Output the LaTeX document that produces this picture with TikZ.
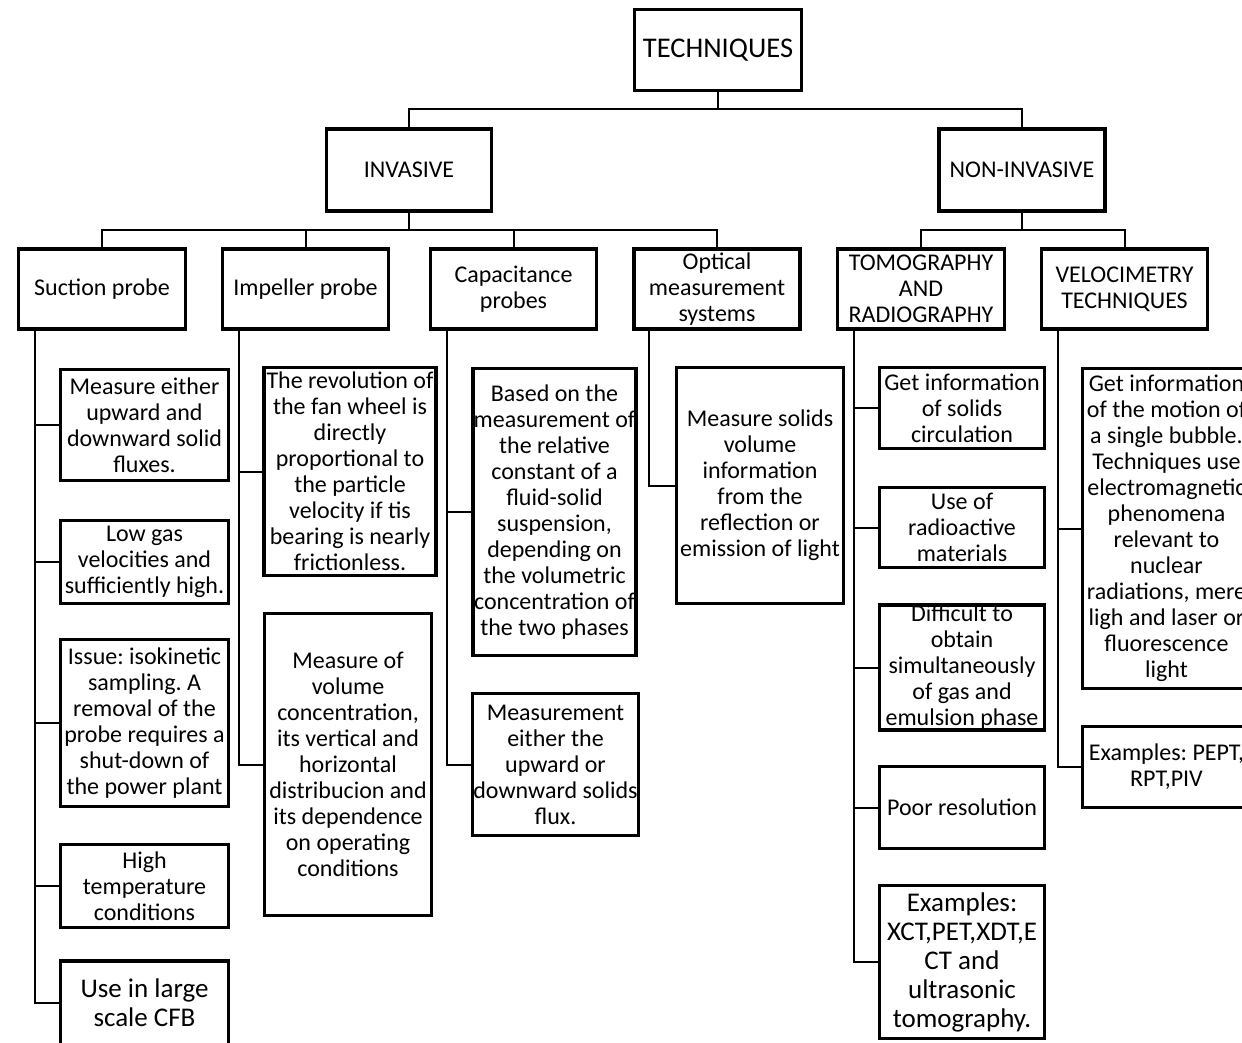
\documentclass[tikz,border=0pt]{standalone}
\usepackage{fontspec}
\setmainfont{Carlito}
\usepackage{tikz}
\frenchspacing

\tikzset{
  tbox/.style={draw, line width=3.5pt, inner sep=0pt, align=center, font=\fontsize{24}{26}\selectfont},
  bigtext/.style={font=\fontsize{27}{29}\selectfont},
  link/.style={line width=2pt}
}

\begin{document}
\begin{tikzpicture}[x=1pt, y=-1pt]
\fill[white] (0,0) rectangle (1242,1043);
\useasboundingbox (0,0) rectangle (1242,1043);

% top levels
\node[tbox, font=\fontsize{28.5}{30}\selectfont, minimum width=167, minimum height=81] (tech) at (718,50) {TECHNIQUES};
\node[tbox, minimum width=165, minimum height=82] (inv) at (409,170) {INVASIVE};
\node[tbox, minimum width=166, minimum height=82] (non) at (1022,170) {NON-INVASIVE};

% second level
\node[tbox, minimum width=167, minimum height=80] (suc) at (102,289) {Suction probe};
\node[tbox, minimum width=166, minimum height=80] (imp) at (305.5,289) {Impeller probe};
\node[tbox, minimum width=166, minimum height=80] (cap) at (513.5,289) {Capacitance\\probes};
\node[tbox, minimum width=166, minimum height=80] (opt) at (717,289) {Optical\\measurement\\systems};
\node[tbox, minimum width=167, minimum height=80] (tom) at (921,289) {TOMOGRAPHY\\AND\\RADIOGRAPHY};
\node[tbox, minimum width=166, minimum height=80] (vel) at (1124.5,289) {VELOCIMETRY\\TECHNIQUES};

% suction probe
\node[tbox, minimum width=168, minimum height=111] (su1) at (144.5,425) {Measure either\\upward and\\downward solid\\fluxes.};
\node[tbox, minimum width=168, minimum height=83] (su2) at (144.5,562) {Low gas\\velocities and\\sufficiently high.};
\node[tbox, minimum width=168, minimum height=167] (su3) at (144.5,723) {Issue: isokinetic\\sampling. A\\removal of the\\probe requires a\\shut-down of\\the power plant};
\node[tbox, minimum width=168, minimum height=83] (su4) at (144.5,886) {High\\temperature\\conditions};
\node[tbox, bigtext, minimum width=168, minimum height=84] (su5) at (144.5,1003) {Use in large\\scale CFB};

% impeller probe
\node[tbox, minimum width=172, minimum height=208] (im1) at (350,471.5) {The revolution of\\the fan wheel is\\directly\\proportional to\\the particle\\velocity if tis\\bearing is nearly\\frictionless.};
\node[tbox, minimum width=167, minimum height=302] (im2) at (348,764.5) {Measure of\\volume\\concentration,\\its vertical and\\horizontal\\distribucion and\\its dependence\\on operating\\conditions};

% capacitance probes
\node[tbox, minimum width=163, minimum height=287] (ca1) at (554.5,512) {Based on the\\measurement of\\the relative\\constant of a\\fluid-solid\\suspension,\\depending on\\the volumetric\\concentration of\\the two phases};
\node[tbox, minimum width=166, minimum height=142] (ca2) at (555.5,764.5) {Measurement\\either the\\upward or\\downward solids\\flux.};

% optical systems
\node[tbox, minimum width=167, minimum height=236] (op1) at (760,485.5) {Measure solids\\volume\\information\\from the\\reflection or\\emission of light};

% tomography and radiography
\node[tbox, minimum width=165, minimum height=81] (to1) at (962,408) {Get information\\of solids\\circulation};
\node[tbox, minimum width=165, minimum height=80] (to2) at (962,527.5) {Use of\\radioactive\\materials};
\node[tbox, minimum width=165, minimum height=124] (to3) at (962,667.5) {Difficult to\\obtain\\simultaneously\\of gas and\\emulsion phase};
\node[tbox, minimum width=165, minimum height=82] (to4) at (962,807.5) {Poor resolution};
\node[tbox, bigtext, minimum width=165, minimum height=153] (to5) at (962,962) {Examples:\\XCT,PET,XDT,E\\CT and\\ultrasonic\\tomography.};

% velocimetry
\node[tbox, minimum width=168, minimum height=320] (ve1) at (1166.5,528.5) {Get information\\of the motion of\\a single bubble.\\Techniques use\\electromagnetic\\phenomena\\relevant to\\nuclear\\radiations, mere\\ligh and laser or\\fluorescence\\light};
\node[tbox, minimum width=168, minimum height=81] (ve2) at (1166.5,767) {Examples: PEPT,\\RPT,PIV};

% connectors
\draw[link] (tech.south) -- ++(0,17) -| (inv.north);
\draw[link] (tech.south) -- ++(0,17) -| (non.north);
\foreach \c in {suc,imp,cap,opt} \draw[link] (inv.south) -- ++(0,17) -| (\c.north);
\foreach \c in {tom,vel} \draw[link] (non.south) -- ++(0,17) -| (\c.north);
\foreach \c in {su1,su2,su3,su4,su5} \draw[link] ([xshift=18pt]suc.south west) |- (\c.west);
\foreach \c in {im1,im2} \draw[link] ([xshift=18pt]imp.south west) |- (\c.west);
\foreach \c in {ca1,ca2} \draw[link] ([xshift=18pt]cap.south west) |- (\c.west);
\draw[link] ([xshift=17pt]opt.south west) |- (op1.west);
\foreach \c in {to1,to2,to3,to4,to5} \draw[link] ([xshift=18pt]tom.south west) |- (\c.west);
\foreach \c in {ve1,ve2} \draw[link] ([xshift=18pt]vel.south west) |- (\c.west);
\end{tikzpicture}
\end{document}
